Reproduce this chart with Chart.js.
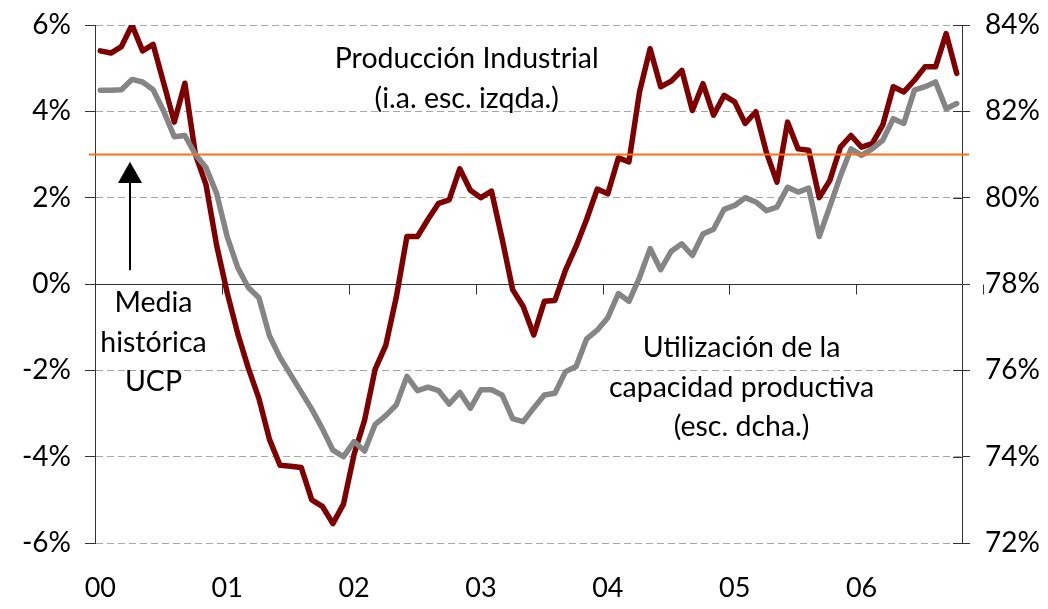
<!DOCTYPE html>
<html>
<head>
<meta charset="utf-8">
<script src="https://cdn.jsdelivr.net/npm/chart.js@4"></script>
<style>
  body { margin: 0; background: #fff; }
  canvas { display: block; }
</style>
</head>
<body>
<canvas id="chart" width="1048" height="609"></canvas>
<script>
// años en el eje (enero de cada año)
const years = ['00', '01', '02', '03', '04', '05', '06'];
const nMonths = 82; // ene-2000 .. oct-2006

// Producción industrial, tasa interanual (%), escala izquierda
const produccion = [
  5.4, 5.35, 5.5, 6.0, 5.4, 5.55, 4.65, 3.75, 4.65, 3.0, 2.3, 0.9,
  -0.2, -1.15, -1.95, -2.65, -3.6, -4.2, -4.22, -4.25, -5.0, -5.15, -5.55, -5.1,
  -3.95, -3.15, -1.97, -1.42, -0.3, 1.1, 1.1, 1.5, 1.87, 1.95, 2.67, 2.17,
  2.0, 2.15, 1.05, -0.13, -0.52, -1.18, -0.4, -0.38, 0.32, 0.87, 1.5, 2.2,
  2.09, 2.92, 2.83, 4.45, 5.45, 4.57, 4.7, 4.95, 4.02, 4.64, 3.91, 4.37,
  4.22, 3.72, 3.99, 3.05, 2.36, 3.75, 3.13, 3.1, 2.0, 2.4, 3.17, 3.44,
  3.17, 3.25, 3.68, 4.57, 4.45, 4.72, 5.03, 5.03, 5.8, 4.88
];

// Utilización de la capacidad productiva (%), escala derecha
const utilizacion = [
  82.49, 82.49, 82.5, 82.74, 82.68, 82.5, 82.0, 81.41, 81.44, 81.0, 80.7, 80.1,
  79.1, 78.38, 77.92, 77.68, 76.8, 76.3, 75.9, 75.5, 75.1, 74.65, 74.15, 74.0,
  74.35, 74.13, 74.75, 74.95, 75.2, 75.86, 75.53, 75.61, 75.53, 75.22, 75.49, 75.12,
  75.55, 75.55, 75.43, 74.88, 74.81, 75.13, 75.43, 75.47, 75.97, 76.09, 76.73, 76.93,
  77.22, 77.78, 77.6, 78.15, 78.82, 78.33, 78.76, 78.93, 78.66, 79.16, 79.27, 79.73,
  79.82, 80.0, 79.9, 79.7, 79.78, 80.24, 80.13, 80.22, 79.1, 79.8, 80.5, 81.13,
  80.98, 81.13, 81.33, 81.83, 81.72, 82.49, 82.57, 82.68, 82.06, 82.18
];

const mediaUCP = 81; // media histórica UCP (escala derecha)

const leftTicks = [-6, -4, -2, 0, 2, 4, 6];
const rightTicks = [72, 74, 76, 78, 80, 82, 84];

const months = [];
for (let i = 0; i < nMonths; i++) {
  months.push(years[Math.floor(i / 12)] + '-' + String(i % 12 + 1).padStart(2, '0'));
}

const FONT = 'Lato, "Open Sans", sans-serif';
const AXIS = '#333333';

// eje horizontal en el 0 con sus marcas, marcas interiores del eje derecho
const axisDecor = {
  id: 'axisDecor',
  beforeDatasetsDraw(chart) {
    const { ctx, chartArea: a, scales: { x, y, y2 } } = chart;
    const y0 = Math.round(y.getPixelForValue(0)) + 0.5;
    const half = (x.getPixelForValue(1) - x.getPixelForValue(0)) / 2;
    ctx.save();
    ctx.strokeStyle = AXIS;
    ctx.lineWidth = 1;
    ctx.beginPath();
    ctx.moveTo(a.left, y0);
    ctx.lineTo(a.right, y0);
    for (let k = 0; k <= years.length; k++) {
      const bx = Math.round(x.getPixelForValue(k * 12) - half) + 0.5;
      ctx.moveTo(bx, y0);
      ctx.lineTo(bx, y0 + 10);
    }
    rightTicks.forEach(v => {
      const ty = Math.round(y2.getPixelForValue(v)) + 0.5;
      ctx.moveTo(a.right - 9, ty);
      ctx.lineTo(a.right, ty);
    });
    ctx.stroke();
    ctx.restore();
  },
  afterDatasetsDraw(chart) {
    const { ctx, chartArea: a, scales: { y2 } } = chart;
    const ly = y2.getPixelForValue(mediaUCP);
    ctx.save();
    ctx.strokeStyle = '#ff7014';
    ctx.lineWidth = 2;
    ctx.beginPath();
    ctx.moveTo(a.left - 6, ly);
    ctx.lineTo(a.right + 7, ly);
    ctx.stroke();
    ctx.restore();
  }
};

// textos y flecha
const notes = [
  { text: 'Producción Industrial', idx: 34.66, val: 5.0 },
  { text: '(i.a. esc. izqda.)', idx: 34.66, val: 4.08 },
  { text: 'Media', idx: 5.03, val: -0.65 },
  { text: 'histórica', idx: 5.03, val: -1.575 },
  { text: 'UCP', idx: 5.03, val: -2.48 },
  { text: 'Utilización de la', idx: 60.65, val: -1.69 },
  { text: 'capacidad productiva', idx: 60.65, val: -2.62 },
  { text: '(esc. dcha.)', idx: 60.65, val: -3.52 }
];
const arrow = { idx: 2.81, from: 0.32, to: 2.83, head: 2.34 };

const notesPlugin = {
  id: 'notes',
  afterDraw(chart) {
    const { ctx, scales: { x, y } } = chart;
    ctx.save();
    ctx.fillStyle = '#000';
    ctx.font = '28.5px ' + FONT;
    ctx.textAlign = 'center';
    ctx.textBaseline = 'alphabetic';
    notes.forEach(n => ctx.fillText(n.text, x.getPixelForValue(n.idx), y.getPixelForValue(n.val)));

    const ax = x.getPixelForValue(arrow.idx);
    const yTail = y.getPixelForValue(arrow.from);
    const yTip = y.getPixelForValue(arrow.to);
    const yHead = y.getPixelForValue(arrow.head);
    ctx.strokeStyle = '#000';
    ctx.lineWidth = 2;
    ctx.beginPath();
    ctx.moveTo(ax, yTail);
    ctx.lineTo(ax, yHead);
    ctx.stroke();
    ctx.beginPath();
    ctx.moveTo(ax, yTip);
    ctx.lineTo(ax - 12, yHead);
    ctx.lineTo(ax + 12, yHead);
    ctx.closePath();
    ctx.fill();
    ctx.restore();
  }
};

// ancho fijo del eje y sin relleno vertical extra de las etiquetas
const fixWidth = w => s => { s.width = w; s.paddingTop = 0; s.paddingBottom = 0; };

new Chart(document.getElementById('chart').getContext('2d'), {
  type: 'line',
  data: {
    labels: months,
    datasets: [
      {
        label: 'Producción Industrial',
        data: produccion,
        yAxisID: 'y',
        borderColor: '#7f0000',
        borderWidth: 5.5,
        pointRadius: 0,
        tension: 0,
        borderJoinStyle: 'round',
        borderCapStyle: 'round',
        order: 2
      },
      {
        label: 'Utilización de la capacidad productiva',
        data: utilizacion,
        yAxisID: 'y2',
        borderColor: '#858585',
        borderWidth: 5.5,
        pointRadius: 0,
        tension: 0,
        borderJoinStyle: 'round',
        borderCapStyle: 'round',
        order: 1
      }
    ]
  },
  options: {
    responsive: false,
    animation: false,
    layout: { padding: { top: 25, left: 0, right: 0, bottom: 0 } },
    plugins: {
      legend: { display: false },
      tooltip: { enabled: false }
    },
    scales: {
      x: {
        type: 'category',
        offset: true,
        grid: { display: false, drawTicks: false },
        border: { display: false },
        ticks: {
          autoSkip: false,
          maxRotation: 0,
          padding: 29,
          color: '#000',
          font: { family: FONT, size: 27 },
          callback: (v, i) => (i % 12 === 0 ? years[i / 12] : '')
        },
        afterFit: s => { s.height = 66; }
      },
      y: {
        position: 'left',
        min: -6,
        max: 6,
        afterBuildTicks: s => { s.ticks = leftTicks.map(v => ({ value: v })); },
        grid: { color: '#a6a6a6', lineWidth: 1, tickLength: 10, tickColor: AXIS },
        border: { color: AXIS, width: 1, dash: [7, 4] },
        ticks: {
          padding: 14,
          color: '#000',
          font: { family: FONT, size: 28 },
          callback: v => v + '%'
        },
        afterFit: fixWidth(95)
      },
      y2: {
        position: 'right',
        min: 72,
        max: 84,
        afterBuildTicks: s => { s.ticks = rightTicks.map(v => ({ value: v })); },
        grid: { drawOnChartArea: false, tickLength: 8, tickColor: AXIS, color: AXIS },
        border: { color: AXIS, width: 1 },
        ticks: {
          padding: 15,
          color: '#000',
          font: { family: FONT, size: 28 },
          callback: v => v + '%'
        },
        afterFit: fixWidth(86)
      }
    }
  },
  plugins: [axisDecor, notesPlugin]
});
</script>
</body>
</html>
